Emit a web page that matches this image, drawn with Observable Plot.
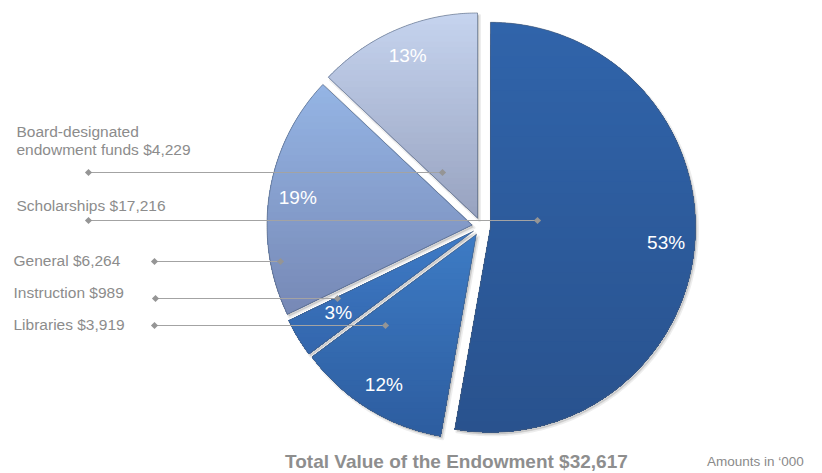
<!DOCTYPE html>
<html>
<head>
<meta charset="utf-8">
<script src="https://cdn.jsdelivr.net/npm/d3@7"></script>
<script src="https://cdn.jsdelivr.net/npm/@observablehq/plot@0.6"></script>
<style>
  body { margin: 0; background: #fff; font-family: "Liberation Sans", Arial, Helvetica, sans-serif; }
  #wrap { position: relative; width: 822px; height: 473px; overflow: hidden; }
  #chart svg { display: block; }
  #title { position: absolute; left: 285px; top: 451px; font-size: 19px; line-height: 22px; font-weight: bold; color: #8e8e8e; white-space: nowrap; }
  #note { position: absolute; left: 707px; top: 453px; font-size: 13.5px; line-height: 17px; color: #8a8a8a; white-space: nowrap; }
</style>
</head>
<body>
<div id="wrap">
  <div id="chart"></div>
  <div id="title"></div>
  <div id="note"></div>
</div>
<script>
// ---- data ----
const categories = ["Scholarships", "Libraries", "Instruction", "General", "Board-designated endowment funds"];
const amounts = [17216, 3919, 989, 6264, 4229];
const labelTexts = ["Scholarships $17,216", "Libraries $3,919", "Instruction $989", "General $6,264", "Board-designated\nendowment funds $4,229"];
const titleText = "Total Value of the Endowment $32,617";
const noteText = "Amounts in \u2018000";

// ---- styles / layout ----
const sliceColors = ["#2d5c9e", "#3570b6", "#3a73bd", "#8aa3d1", "#b3c0dd"];
const gradientStops = [
  ["#3064aa", "#29528e"],
  ["#3d7bc4", "#2d5da0"],
  ["#3e7bc6", "#3366ad"],
  ["#94b4e4", "#7789b6"],
  ["#c5d3ee", "#98a3c0"]
];
// leader layout (px): label anchor x, label y, line start x, line y, line end x
const leaderLayout = [
  {tx: 16, ty: 205, x1: 88,  y: 220, x2: 537},
  {tx: 13, ty: 324, x1: 154, y: 325, x2: 385},
  {tx: 13, ty: 292, x1: 155, y: 298, x2: 337},
  {tx: 13, ty: 260, x1: 154, y: 261, x2: 280},
  {tx: 16, ty: 140, x1: 88,  y: 172, x2: 442}
];

const W = 822, H = 445;
const C = {x: 480.7, y: 226}, R = 205, explode = 9.3;
const total = d3.sum(amounts);
const arcs = d3.pie().sort(null).value(d => d)(amounts);

const slices = arcs.map((a, i) => {
  const mid = (a.startAngle + a.endAngle) / 2;
  const ox = C.x + explode * Math.sin(mid), oy = C.y - explode * Math.cos(mid);
  const pct = Math.round(amounts[i] / total * 100);
  const lr = (pct < 5 ? 0.77 : 0.86) * R;
  const n = Math.max(6, Math.ceil((a.endAngle - a.startAngle) / 0.01));
  const pts = [{x: ox, y: oy}];
  for (let k = 0; k <= n; k++) {
    const t = a.startAngle + (a.endAngle - a.startAngle) * k / n;
    pts.push({x: ox + R * Math.sin(t), y: oy - R * Math.cos(t)});
  }
  pts.push({x: ox, y: oy});
  return {i, pts, pct, lx: ox + lr * Math.sin(mid), ly: oy - lr * Math.cos(mid)};
});
const allPoints = slices.flatMap(s => s.pts.map(p => ({...p, cat: categories[s.i]})));

// vertical gradient emulated by stacked clipped bands (painter's order)
function clipBelow(poly, t) {
  const out = [];
  for (let k = 0; k < poly.length; k++) {
    const A = poly[k], B = poly[(k + 1) % poly.length];
    const ina = A.y >= t, inb = B.y >= t;
    if (ina) out.push(A);
    if (ina !== inb) {
      const r = (t - A.y) / (B.y - A.y);
      out.push({x: A.x + r * (B.x - A.x), y: t});
    }
  }
  return out;
}
const NB = 36;
const bandPoints = slices.flatMap(s => {
  const poly = s.pts.slice(0, -1);
  const [y0, y1] = d3.extent(poly, p => p.y);
  const interp = d3.interpolateRgb(gradientStops[s.i][0], gradientStops[s.i][1]);
  const rows = [];
  for (let k = 0; k < NB; k++) {
    const t = y0 + (y1 - y0) * k / NB;
    const clipped = k === 0 ? poly : clipBelow(poly, t);
    if (clipped.length < 3) continue;
    const color = d3.color(interp(k / (NB - 1))).formatHex();
    clipped.forEach(p => rows.push({band: `${s.i}-${k}`, x: p.x, y: p.y, color}));
  }
  return rows;
});

const leaders = categories.map((c, i) => ({cat: c, label: labelTexts[i], ...leaderLayout[i]}));
const diamonds = leaders.flatMap(d => [{x: d.x1, y: d.y}, {x: d.x2, y: d.y}]);

const chart = Plot.plot({
  width: W,
  height: H,
  margin: 0,
  x: {domain: [0, W], range: [0, W], axis: null},
  y: {domain: [0, H], range: [0, H], axis: null},
  color: {type: "identity"},
  style: {fontFamily: "'Liberation Sans', Arial, Helvetica, sans-serif", background: "#fff"},
  marks: [
    // soft shadow
    Plot.line(allPoints, {x: "x", y: "y", z: "cat", fill: "#000", fillOpacity: 0.07, stroke: "#000", strokeOpacity: 0.07, strokeWidth: 3, dx: 2, dy: 2.5}),
    Plot.line(allPoints, {x: "x", y: "y", z: "cat", fill: "#000", fillOpacity: 0.1, stroke: "none", dx: 1.5, dy: 2}),
    // solid base
    ...slices.map(s => Plot.line(s.pts, {
      x: "x", y: "y", fill: sliceColors[s.i], stroke: "none"
    })),
    // gradient bands
    Plot.line(bandPoints, {x: "x", y: "y", z: "band", fill: "color", stroke: "none"}),
    // outlines
    Plot.line(allPoints, {
      x: "x", y: "y", z: "cat", fill: "none",
      stroke: "#4e5d74", strokeWidth: 0.8, strokeOpacity: 0.7,
      strokeLinejoin: "miter", strokeMiterlimit: 4
    }),
    Plot.text(slices, {
      x: "lx", y: "ly", text: d => `${d.pct}%`,
      fill: "#fff", fontSize: 19, textAnchor: "middle"
    }),
    Plot.link(leaders, {x1: "x1", y1: "y", x2: "x2", y2: "y", stroke: "#a3a3a3", strokeWidth: 1.2}),
    Plot.dot(diamonds, {x: "x", y: "y", symbol: "diamond2", r: 3.2, fill: "#959595", stroke: "none"}),
    Plot.text(leaders, {
      x: "tx", y: "ty", text: "label", textAnchor: "start",
      fill: "#8c8c8c", fontSize: 15.5, lineHeight: 1.16
    })
  ]
});

document.getElementById("chart").appendChild(chart);
document.getElementById("title").textContent = titleText;
document.getElementById("note").textContent = noteText;
</script>
</body>
</html>
